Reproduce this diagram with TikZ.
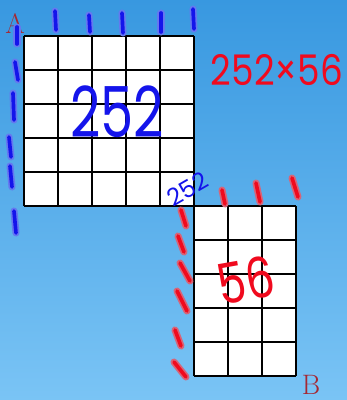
\documentclass[tikz,border=0pt]{standalone}
\usepackage{fontspec}
\newfontfamily\handfont{Poppins}
\definecolor{skytop}{RGB}{56,152,224}
\definecolor{skybottom}{RGB}{122,196,245}
\definecolor{inkblue}{RGB}{20,20,235}
\definecolor{haloblue}{RGB}{100,120,240}
\definecolor{inkred}{RGB}{240,10,30}
\definecolor{halored}{RGB}{215,100,120}
\definecolor{letterred}{RGB}{165,40,50}

\begin{document}
\begin{tikzpicture}[x=0.025cm,y=-0.025cm,
        bluepen/.style={inkblue, line width=2.6pt, line cap=round,
            preaction={draw=haloblue, line width=5pt, line cap=round}},
        redpen/.style={inkred, line width=2.6pt, line cap=round,
            preaction={draw=halored, line width=5pt, line cap=round}},
        cellline/.style={black, line width=2.1pt}]
        % background
        \shade[top color=skytop, bottom color=skybottom] (0,0) rectangle (347,400);
        \useasboundingbox (0,0) rectangle (347,400);
        % grid A, 5 by 5
        \fill[white] (24,36) rectangle (194,206);
        \foreach \x in {24,58,...,194} \draw[cellline] (\x,36) -- (\x,206);
        \foreach \y in {36,70,...,206} \draw[cellline] (24,\y) -- (194,\y);
        % grid B, 3 by 5
        \fill[white] (194,206) rectangle (296,376);
        \foreach \x in {194,228,...,296} \draw[cellline] (\x,206) -- (\x,376);
        \foreach \y in {206,240,...,376} \draw[cellline] (194,\y) -- (296,\y);
        % corner letters
        \node[letterred, font=\fontsize{20}{20}\selectfont] (A) at (15,24) {A};
        \node[letterred, font=\fontsize{20}{20}\selectfont] (B) at (311,385) {B};
        % blue marks
        \foreach \xa/\ya/\xb/\yb in {55/11/56/30, 89/15/90/32, 122/13/123/33, 161/13/161/32, 193/9/194/29,
            17/27/17/44, 15/62/18/80, 13/93/14/120, 9/137/11/157, 10/166/12/187, 14/211/16/233}
            \draw[bluepen] (\xa,\ya) -- (\xb,\yb);
        % red marks
        \foreach \xa/\ya/\xb/\yb in {222/190/225/204, 256/183/260/202, 292/178/298/197,
            181/210/186/226, 178/236/184/252, 180/263/190/281, 177/291/187/311, 175/330/181/346, 174/362/186/377}
            \draw[redpen] (\xa,\ya) -- (\xb,\yb);
        % counts
        \node[inkblue, font=\handfont\fontsize{50}{50}\selectfont] (countA) at (117,112)
            {\scalebox{0.75}[1]{252}};
        \node[inkblue, font=\handfont\fontsize{17}{17}\selectfont, rotate=30] (edge) at (188,189)
            {252};
        \node[inkred, font=\handfont\fontsize{30}{30}\selectfont] (product) at (277,70)
            {\scalebox{0.85}[1]{252×56}};
        \node[inkred, font=\handfont\fontsize{40}{40}\selectfont, rotate=10] (countB) at (246,280)
            {\scalebox{0.8}[1]{56}};
\end{tikzpicture}
\end{document}
